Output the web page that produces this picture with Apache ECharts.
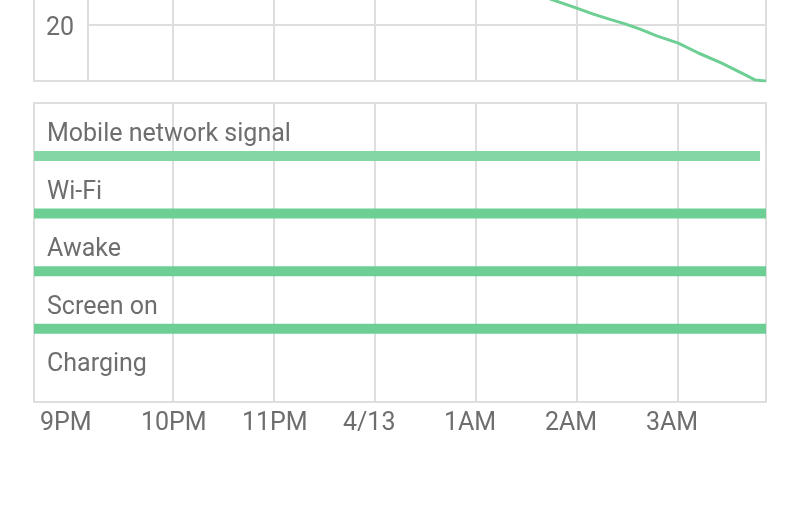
<!DOCTYPE html>
<html>
<head>
<meta charset="utf-8">
<script src="https://cdn.jsdelivr.net/npm/echarts@6/dist/echarts.min.js"></script>
<style>
  html, body { margin: 0; padding: 0; background: #fff; }
  #chart { width: 800px; height: 532px; }
</style>
</head>
<body>
<div id="chart"></div>
<script>
// time is in hours counted from midnight of 4/12 (24 = 4/13 00:00)
const timeStart = 20.624
const timeEnd = 27.871
const plotStart = 21.158
const hourTicks = [21, 22, 23, 24, 25, 26, 27]
const hourLabels = ['9PM', '10PM', '11PM', '4/13', '1AM', '2AM', '3AM']
const gridHours = [22, 23, 24, 25, 26, 27]

// battery level (%) – only the tail is visible in the picture
const batteryTime = [21.16, 22, 23, 24, 25, 25.765, 25.997, 26.161, 26.327, 26.475, 26.624, 26.789, 27.003, 27.201, 27.433, 27.631, 27.762, 27.861, 27.871]
const batteryLevel = [86, 76, 63, 51, 38.5, 28.9, 26.0, 23.9, 22.0, 20.4, 18.5, 16.1, 13.5, 10.0, 6.4, 2.8, 0.4, 0, 0]

// state rows, each one is "on" until the given hour
const rowNames = ['Mobile network signal', 'Wi-Fi', 'Awake', 'Screen on', 'Charging']
const rowOnUntil = [27.812, 27.871, 27.871, 27.871, null]

const gridColor = '#dedede'
const textColor = '#6e6e6e'
const green = '#6dcf94'
const lightGreen = '#85d6a5'
const font = 'Roboto'
const fontSize = 25
// labels are drawn left aligned, starting a bit before their hour line
const labelShift = 0.317

const hidden = { show: false }

const chart = echarts.init(document.getElementById('chart'))
chart.setOption({
  animation: false,
  backgroundColor: '#fff',
  grid: [
    // 0: frame of the battery chart
    { left: 34, right: 34, top: -240, bottom: 451, show: true, borderColor: gridColor, borderWidth: 2, outerBoundsMode: 'none' },
    // 1: battery plot
    { left: 88, right: 34, top: -199, bottom: 451, outerBoundsMode: 'none' },
    // 2: frame of the state chart
    { left: 34, right: 34, top: 103, bottom: 130, show: true, borderColor: gridColor, borderWidth: 2, outerBoundsMode: 'none' },
    // 3: row titles
    { left: 34, right: 34, top: 106, height: 288, outerBoundsMode: 'none' },
    // 4: row bars
    { left: 34, right: 34, top: 127.2, height: 288, outerBoundsMode: 'none' }
  ],
  xAxis: [
    { gridIndex: 0, type: 'value', show: false },
    {
      gridIndex: 1, type: 'value', min: plotStart, max: timeEnd,
      axisLine: hidden, axisLabel: hidden,
      axisTick: { show: false, customValues: gridHours },
      splitLine: { show: true, lineStyle: { color: gridColor, width: 2 } }
    },
    {
      gridIndex: 2, type: 'value', min: timeStart, max: timeEnd,
      axisLine: hidden,
      axisTick: { show: false, customValues: gridHours },
      splitLine: { show: true, lineStyle: { color: gridColor, width: 2 } },
      axisLabel: {
        customValues: hourTicks.map(h => h - labelShift),
        align: 'left',
        margin: 9,
        fontFamily: font,
        fontSize: fontSize,
        color: textColor,
        formatter: v => hourLabels[hourTicks.indexOf(Math.round(v + labelShift))]
      }
    },
    { gridIndex: 3, type: 'value', show: false },
    { gridIndex: 4, type: 'value', min: timeStart, max: timeEnd, show: false }
  ],
  yAxis: [
    { gridIndex: 0, type: 'value', show: false },
    {
      gridIndex: 1, type: 'value', min: 0, max: 100, interval: 20,
      axisLine: { show: true, lineStyle: { color: gridColor, width: 2 } },
      axisTick: hidden,
      splitLine: { show: true, lineStyle: { color: gridColor, width: 2 } },
      axisLabel: {
        showMinLabel: false, margin: 14, verticalAlign: 'top', lineHeight: 8,
        fontFamily: font, fontSize: fontSize, color: textColor
      }
    },
    { gridIndex: 2, type: 'value', show: false },
    {
      gridIndex: 3, type: 'category', data: rowNames, inverse: true,
      axisLine: hidden, axisTick: hidden, splitLine: hidden,
      axisLabel: { inside: true, margin: 13, fontFamily: font, fontSize: fontSize, color: textColor }
    },
    { gridIndex: 4, type: 'category', data: rowNames, inverse: true, show: false }
  ],
  series: [
    {
      type: 'line',
      xAxisIndex: 1,
      yAxisIndex: 1,
      data: batteryTime.map((t, i) => [t, batteryLevel[i]]),
      symbol: 'none',
      lineStyle: { color: green, width: 3 }
    },
    {
      type: 'bar',
      xAxisIndex: 4,
      yAxisIndex: 4,
      data: rowOnUntil,
      barWidth: 10,
      clip: true,
      itemStyle: { color: p => (p.dataIndex === 0 ? lightGreen : green) }
    }
  ]
})
</script>
</body>
</html>
